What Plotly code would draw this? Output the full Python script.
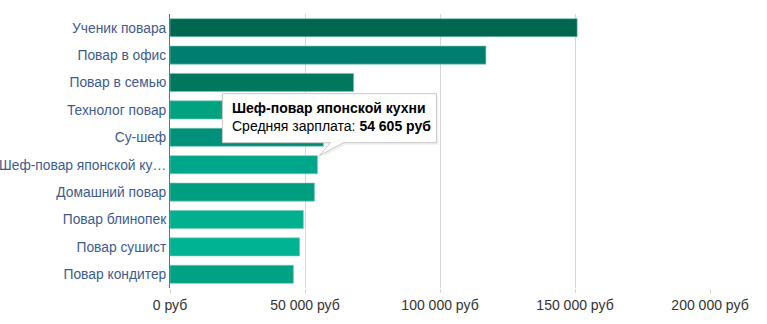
import plotly.graph_objects as go

categories = ["Ученик повара", "Повар в офис", "Повар в семью", "Технолог повар", "Су-шеф",
              "Шеф-повар японской кухни", "Домашний повар", "Повар блинопек", "Повар сушист",
              "Повар кондитер"]
tick_labels = ["Ученик повара", "Повар в офис", "Повар в семью", "Технолог повар", "Су-шеф",
               "Шеф-повар японской ку…", "Домашний повар", "Повар блинопек", "Повар сушист",
               "Повар кондитер"]
salaries = [150800, 117000, 68000, 62000, 56800, 54605, 53500, 49400, 48000, 45700]
bar_colors = ["#006650", "#007f6e", "#00785d", "#00a27f", "#00917b", "#00a68a",
              "#009e80", "#00b08f", "#00b493", "#00a284"]
x_ticks = [0, 50000, 100000, 150000, 200000]
x_tick_labels = ["0 руб", "50 000 руб", "100 000 руб", "150 000 руб", "200 000 руб"]

tip_index = 5
tip_title = categories[tip_index]
tip_value = "54 605 руб"

fig = go.Figure(go.Bar(
    x=salaries, y=categories, orientation="h",
    marker=dict(color=bar_colors, line=dict(color="rgba(120,200,180,0.6)", width=1)),
    hoverinfo="skip",
))

# tooltip bubble (pixel offsets relative to the hovered bar end)
bubble = "M -95,71 L 119,71 L 119,22 L 26,22 L 2,9 L 13,22 L -95,22 Z"
shadow = "M -93,69 L 121,69 L 121,20 L 28,20 L 4,7 L 15,20 L -93,20 Z"
for p, fc, lc in [(shadow, "rgba(0,0,0,0.06)", "rgba(0,0,0,0)"), (bubble, "white", "#c8c8c8")]:
    fig.add_shape(type="path", xref="x", yref="y", xsizemode="pixel", ysizemode="pixel",
                  xanchor=salaries[tip_index], yanchor=categories[tip_index], path=p,
                  fillcolor=fc, line=dict(color=lc, width=1), layer="above")

fig.add_annotation(
    x=salaries[tip_index], y=categories[tip_index], xref="x", yref="y",
    xanchor="left", yanchor="top", xshift=-87, yshift=67, showarrow=False, align="left",
    text=f"<b>{tip_title}</b><br>Средняя зарплата: <b>{tip_value}</b>",
    font=dict(family="Liberation Sans, Arial", size=14, color="#000000"),
)

fig.update_layout(
    width=767, height=324,
    margin=dict(l=170, r=57, t=14, b=36, autoexpand=False),
    paper_bgcolor="white", plot_bgcolor="white",
    bargap=0.34, showlegend=False,
    font=dict(family="Liberation Sans, Arial", size=14),
    xaxis=dict(range=[0, 200000], tickvals=x_ticks, ticktext=x_tick_labels,
               showgrid=True, gridcolor="#d6d6d6", gridwidth=1, zeroline=False,
               ticks="outside", ticklen=4, tickcolor="#d6d6d6", automargin=False,
               tickfont=dict(size=14, color="#333333"), fixedrange=True),
    yaxis=dict(autorange="reversed", tickvals=categories, ticktext=tick_labels,
               showline=True, linecolor="#00a383", linewidth=1, ticks="", automargin=False,
               tickfont=dict(size=13.8, color="#3d5b8c"), ticklabelstandoff=0, fixedrange=True),
)

fig.write_html("out.html")
